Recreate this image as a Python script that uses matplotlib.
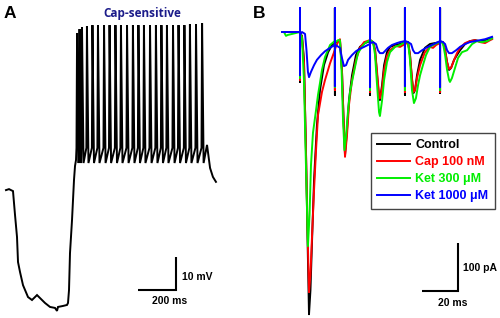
import matplotlib
matplotlib.use("Agg")
import numpy as np
import matplotlib.pyplot as plt

# ---------------- Panel A data (ms, mV) ----------------
slow_t = [0, 15.8, 36.8, 47.4, 57.9, 63.2, 73.7, 89.5, 115.8, 136.8, 152.6, 163.2, 178.9,
          205.3, 231.6, 257.9, 268.4, 273.7, 300, 321, 326.3, 331.6, 336.8, 347.4, 357.9,
          363.2, 368.4]
slow_v = [-60.3, -60.0, -60.6, -67.8, -74.5, -82.1, -85.1, -89.1, -92.7, -93.6, -92.7, -92.1,
          -93.0, -94.5, -95.7, -96.0, -96.9, -95.7, -95.4, -95.1, -94.5, -90.6, -79.4, -69.4,
          -57.2, -53.0, -51.2]
spike_t = [374, 387, 400, 426, 455, 484, 516, 545, 576, 605, 637, 668, 697, 726, 758, 789,
           818, 847, 879, 908, 939, 968, 1000, 1032]
spike_peak = [-12.7, -11.5, -10.9, -10.6, -10.3, -10.3, -10.3, -10.3, -10.3, -10.3, -10.3,
              -10.3, -10.3, -10.3, -10.3, -10.3, -10.3, -10.3, -10.3, -10.3, -10.3, -10.0,
              -10.0, -9.7]
spike_threshold = -47.5
spike_trough = -52.1
tail_t = [1058, 1074, 1089, 1105]
tail_v = [-46.6, -53.6, -56.3, -57.8]

# ---------------- Panel B data (ms, pA) ----------------
stim_t = [10.0, 29.4, 48.9, 68.3, 87.8]
artifact_top = 50.0

ctrl_t = [0, 4.4, 7.8, 9.9, 10.3, 11.1, 12.2, 13.3, 14.2, 15.0, 15.8, 16.7, 17.8, 19.4, 21.1,
          23.3, 25.6, 27.8, 29.3, 29.7, 31.1, 32.2, 33.3, 34.2, 35.0, 36.1, 37.2, 38.9, 41.1,
          43.3, 46.1, 48.8, 49.2, 50.6, 51.7, 52.8, 53.9, 54.4, 55.6, 56.7, 58.3, 60.0, 62.8,
          65.6, 68.2, 68.6, 70.0, 71.1, 72.2, 73.1, 73.9, 75.0, 76.7, 79.4, 82.2, 85.0, 87.7,
          88.1, 89.4, 90.6, 91.7, 92.8, 93.9, 95.6, 97.2, 98.9, 101.7, 104.4, 107.2, 110.0,
          112.8, 115.6, 116.7]
ctrl_i = [0, 0, 0, 0, -4, -8, -58, -246, -433, -588, -538, -433, -308, -194, -121,
          -69, -42, -27, -21, -23, -19, -17, -79, -183, -256, -204, -142, -90, -48,
          -31, -23, -19, -19, -21, -38, -90, -135, -142, -110, -69, -42, -31, -27,
          -25, -21, -21, -21, -48, -100, -127, -121, -90, -58, -33, -25, -23, -21,
          -21, -21, -38, -63, -79, -75, -58, -48, -38, -25, -19, -17, -19,
          -17, -13, -13]
ctrl_art = [-104.2, -131.3, -131.3, -131.3, -127.1]

cap_t = [0, 9.9, 10.3, 11.1, 12.2, 13.3, 14.2, 15.0, 15.8, 16.7, 17.8, 18.9, 20.0, 22.2, 23.9,
         26.7, 29.3, 29.7, 31.1, 32.2, 33.3, 34.2, 35.0, 36.1, 37.2, 38.9, 41.1, 43.3, 45.6,
         48.8, 49.2, 50.6, 51.7, 52.8, 53.9, 54.4, 55.6, 56.7, 58.3, 60.0, 61.7, 63.3, 65.6,
         68.2, 68.6, 70.0, 71.1, 72.2, 73.1, 73.9, 75.0, 76.7, 79.4, 82.2, 83.9, 85.6, 87.7,
         88.1, 89.4, 90.6, 91.7, 92.8, 93.9, 95.6, 97.2, 98.9, 101.7, 104.4, 107.2, 110.0,
         112.8, 115.6, 116.7]
cap_i = [0, 0, -4, -10, -63, -246, -413, -542, -506, -423, -329, -246, -173, -125, -100,
         -65, -38, -33, -21, -15, -79, -183, -260, -215, -152, -100, -58, -33, -21,
         -17, -17, -21, -38, -83, -131, -138, -117, -79, -50, -38, -33, -29, -31,
         -25, -25, -21, -48, -96, -125, -121, -96, -69, -42, -31, -33, -27, -23,
         -21, -21, -38, -63, -77, -75, -58, -44, -33, -23, -19, -17, -21,
         -23, -17, -15]
cap_art = [-100.0, -120.8, -125.0, -125.0, -125.0]

ket300_t = [0, 1.1, 2.2, 3.3, 5.6, 7.8, 9.9, 10.3, 11.1, 12.2, 13.1, 13.9, 14.4, 15.3, 16.1,
            17.2, 18.9, 20.0, 21.1, 22.2, 23.9, 26.7, 29.3, 29.7, 31.1, 32.2, 33.1, 33.9, 34.7,
            35.6, 36.7, 37.8, 39.4, 41.1, 42.2, 44.4, 46.1, 48.8, 49.2, 50.6, 51.7, 52.8, 53.9,
            54.4, 55.6, 56.7, 58.3, 60.0, 62.8, 65.6, 68.2, 68.6, 70.0, 71.1, 72.2, 73.3, 74.4,
            75.6, 76.7, 78.3, 80.0, 82.2, 85.0, 87.7, 88.1, 89.4, 90.6, 91.7, 92.8, 93.3, 94.4,
            96.1, 97.8, 100.0, 102.8, 105.6, 108.3, 111.1, 113.9, 116.7]
ket300_i = [0, 0, -8, -6, -4, -2, 0, -4, -13, -100, -246, -371, -446, -381, -277,
            -210, -163, -131, -106, -79, -52, -27, -19, -21, -17, -17, -79, -183, -246,
            -215, -163, -125, -94, -63, -44, -31, -23, -17, -17, -21, -48, -110, -167,
            -175, -142, -100, -63, -42, -31, -27, -21, -21, -21, -58, -121, -148, -138,
            -110, -90, -69, -48, -31, -25, -21, -21, -23, -48, -79, -100, -104, -96,
            -75, -54, -42, -38, -25, -19, -21, -19, -13]
ket300_art = [-95.8, -114.6, -120.8, -120.8, -120.8]

ket1000_t = [0, 9.9, 10.3, 11.1, 12.8, 13.6, 14.4, 15.0, 16.1, 17.8, 19.4, 21.7, 23.9, 26.7,
             29.3, 29.7, 30.6, 32.2, 33.3, 34.4, 35.6, 36.7, 38.9, 41.1, 43.3, 45.6, 48.8,
             49.2, 50.6, 52.2, 53.3, 54.4, 56.1, 58.9, 61.1, 63.9, 65.6, 68.2, 68.6, 70.0,
             71.7, 72.8, 73.9, 75.6, 77.8, 80.0, 82.2, 84.4, 87.7, 88.1, 89.4, 90.6, 91.7,
             92.8, 94.4, 96.7, 98.9, 101.7, 104.4, 107.2, 110.0, 112.8, 116.7]
ket1000_i = [0, 0, -4, 0, -4, -38, -83, -94, -83, -69, -58, -48, -40, -33,
             -27, -27, -29, -33, -54, -71, -69, -58, -48, -40, -35, -31, -25,
             -23, -21, -25, -38, -44, -44, -33, -27, -23, -21, -19, -19, -21,
             -25, -38, -44, -44, -38, -33, -29, -25, -19, -19, -21, -25, -38,
             -44, -44, -38, -31, -25, -21, -19, -17, -15, -10]
ket1000_art = [-89.6, -112.5, -114.6, -112.5, -114.6]

labels = ["Control", "Cap 100 nM", "Ket 300 \u03bcM", "Ket 1000 \u03bcM"]
colors = ["#000000", "#ff0000", "#00ee00", "#0000ff"]

W, H = 500, 318
FONT = "Liberation Sans"


def fx(px):
    return px / W


def fy(py):
    return 1 - py / H


fig = plt.figure(figsize=(W / 100, H / 100), dpi=100)
fig.patch.set_facecolor("white")

# ---------------- Panel A ----------------
axA = fig.add_axes([0, 0, 0.5, 1])
axA.axis("off")
axA.set_xlim(-31.6, 1284.2)
axA.set_ylim(-99.05, -2.7)

tA = list(slow_t)
vA = list(slow_v)
for ts, pk in zip(spike_t, spike_peak):
    tA += [ts - 3, ts, ts + 8]
    vA += [spike_threshold, pk, spike_trough]
tA += tail_t
vA += tail_v
axA.plot(tA, vA, color="black", lw=1.4, solid_joinstyle="miter")

# scale bar A: 200 ms x 10 mV
sbx, sby = 894.7, -90.6
axA.plot([sbx - 200, sbx, sbx], [sby, sby, sby + 10], color="black", lw=1.5,
         solid_capstyle="butt", solid_joinstyle="miter")
fig.text(fx(182), fy(277), "10 mV", ha="left", va="center", fontsize=7.5,
         fontweight="bold", family=FONT)
fig.text(fx(170), fy(301), "200 ms", ha="center", va="center", fontsize=7.5,
         fontweight="bold", family=FONT)
fig.text(fx(142), fy(14), "Cap-sensitive", ha="center", va="center", fontsize=8.5,
         fontweight="bold", family="Open Sans", color="#1c1c8a")
fig.text(fx(4), fy(14), "A", ha="left", va="center", fontsize=12.5,
         fontweight="bold", family=FONT)

# ---------------- Panel B ----------------
axB = fig.add_axes([0.5, 0, 0.5, 1])
axB.axis("off")
axB.set_xlim(-17.78, 121.1)
axB.set_ylim(-595.8, 66.7)


def with_artifacts(t, i, bottoms):
    tt = np.asarray(t, float)
    ii = np.asarray(i, float)
    for ts, bot in zip(stim_t[::-1], bottoms[::-1]):
        k = np.searchsorted(tt, ts)
        v = np.interp(ts, tt, ii)
        tt = np.insert(tt, k, [ts, ts, ts, ts])
        ii = np.insert(ii, k, [v, artifact_top, bot, v])
    return tt, ii


traces = [(ctrl_t, ctrl_i, ctrl_art), (cap_t, cap_i, cap_art),
          (ket300_t, ket300_i, ket300_art), (ket1000_t, ket1000_i, ket1000_art)]
handles = []
for (t, i, art), lab, col in zip(traces, labels, colors):
    tt, ii = with_artifacts(t, i, art)
    h, = axB.plot(tt, ii, color=col, lw=1.4, label=lab)
    handles.append(h)

# scale bar B: 20 ms x 100 pA
bx, by = 97.8, -539.6
axB.plot([bx - 20, bx, bx], [by, by, by + 100], color="black", lw=1.5,
         solid_capstyle="butt", solid_joinstyle="miter")
fig.text(fx(463), fy(268), "100 pA", ha="left", va="center", fontsize=7.5,
         fontweight="bold", family=FONT)
fig.text(fx(453), fy(303), "20 ms", ha="center", va="center", fontsize=7.5,
         fontweight="bold", family=FONT)
fig.text(fx(253), fy(13), "B", ha="left", va="center", fontsize=12.5,
         fontweight="bold", family=FONT)

leg = fig.legend(handles=handles, labels=labels, loc="upper left",
                 bbox_to_anchor=(fx(371), fy(133)), bbox_transform=fig.transFigure,
                 prop=dict(family=FONT, weight="bold", size=9),
                 handlelength=2.6, handletextpad=0.45, labelspacing=0.4,
                 borderpad=0.5, borderaxespad=0, fancybox=False, framealpha=1)
leg.get_frame().set_edgecolor("#444444")
leg.get_frame().set_linewidth(1.0)
for txt, col in zip(leg.get_texts(), colors):
    txt.set_color(col)

fig.savefig("out.png", dpi=100, facecolor="white")
